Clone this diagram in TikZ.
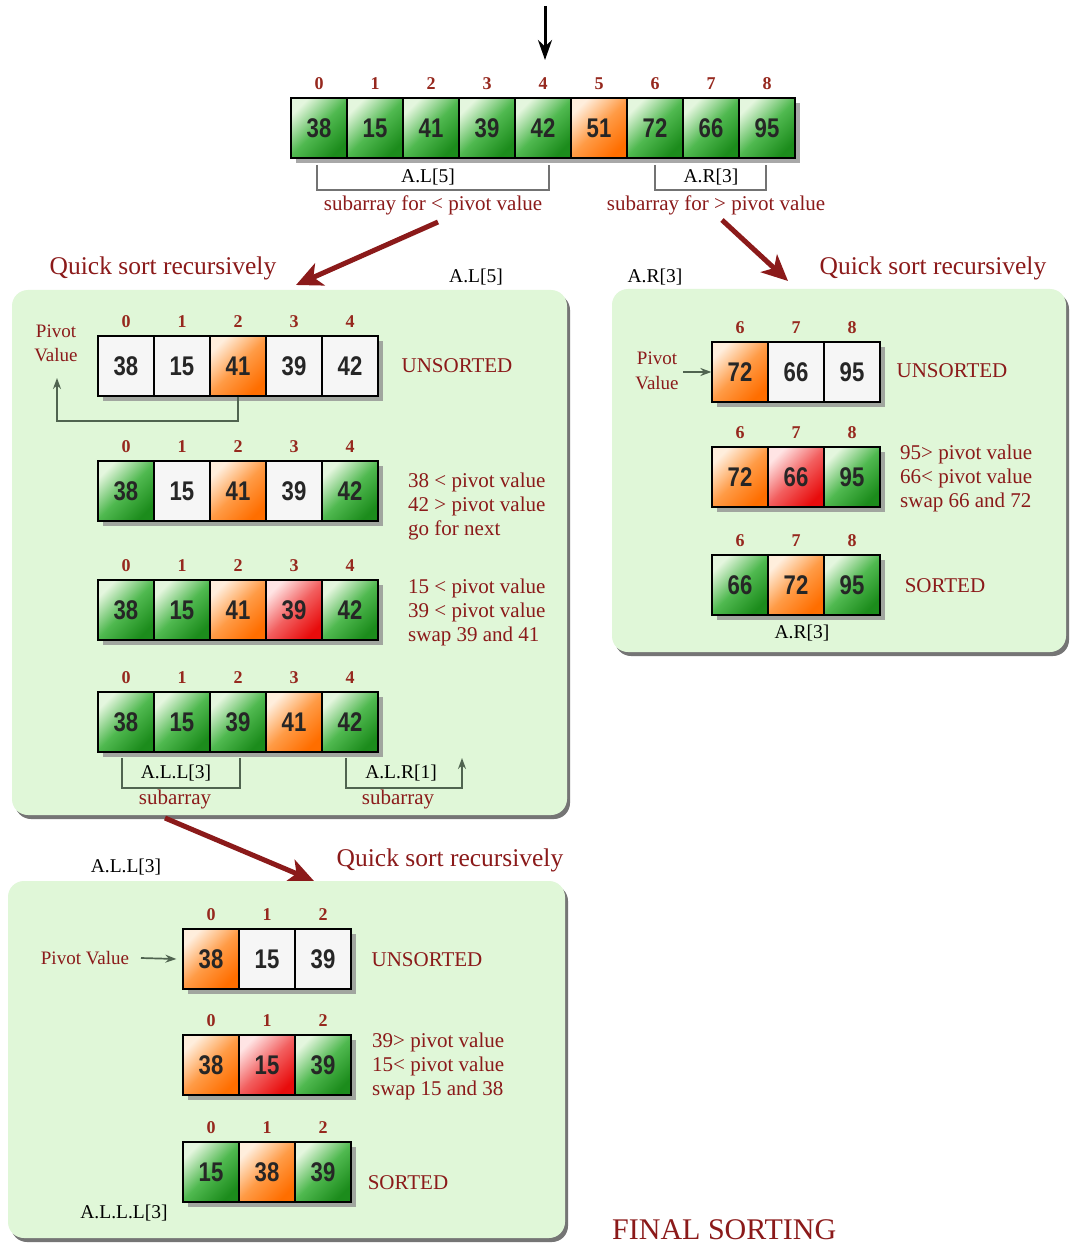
\documentclass[tikz,border=0pt]{standalone}
\usepackage{fontspec}
\setmainfont{Liberation Serif}
\newfontfamily\numfont[FakeStretch=0.82]{Liberation Sans}
\usetikzlibrary{arrows.meta,shadows}
\definecolor{dred}{RGB}{139,26,26}
\definecolor{idxred}{RGB}{150,40,30}
\definecolor{panelg}{RGB}{224,247,216}
\definecolor{gL}{RGB}{228,246,222}
\definecolor{gM}{RGB}{80,185,80}
\definecolor{gD}{RGB}{28,140,28}
\definecolor{oL}{RGB}{255,238,220}
\definecolor{oM}{RGB}{255,155,70}
\definecolor{oD}{RGB}{255,110,0}
\definecolor{rL}{RGB}{255,228,228}
\definecolor{rM}{RGB}{242,95,95}
\definecolor{rD}{RGB}{232,12,12}
\definecolor{wC}{RGB}{246,246,246}
\definecolor{brk}{RGB}{115,115,115}
\definecolor{pgr}{RGB}{80,100,80}

\newcommand\cellrow[5]{% name, x0, ytop, n, items
  \fill[black!45,opacity=.75] ({#2+5},{#3+5}) rectangle ({#2+5+56*#4},{#3+65});
  \foreach \v/\c/\i [count=\k from 0] in {#5}{%
    \node[cell,\c] (#1-\k) at ({#2+28+56*\k},{#3+30}) {\v};
    \node[idx] (#1-i\k) at ({#2+28+56*\k},{#3-14}) {\i};
  }%
}

\begin{document}
\begin{tikzpicture}[x=1pt,y=-1pt,
  cell/.style={draw=black, line width=1.3pt, minimum width=56pt, minimum height=60pt,
    inner sep=0pt, font=\numfont\bfseries\fontsize{27}{30}\selectfont, text=black!85},
  cG/.style={top color=gL, bottom color=gD, middle color=gM, shading angle=45},
  cO/.style={top color=oL, bottom color=oD, middle color=oM, shading angle=45},
  cR/.style={top color=rL, bottom color=rD, middle color=rM, shading angle=45},
  cW/.style={fill=wC},
  lbl/.style={font=\fontsize{19.5}{23}\selectfont, text=black, inner sep=0pt},
  rtxt/.style={font=\fontsize{21}{24}\selectfont, text=dred, inner sep=0pt},
  qtxt/.style={font=\fontsize{25.5}{30}\selectfont, text=dred, inner sep=0pt},
  idx/.style={font=\bfseries\fontsize{18}{20}\selectfont, text=idxred, inner sep=0pt},
  brkline/.style={draw=brk, line width=1.6pt},
  pline/.style={draw=pgr, line width=1.7pt},
  parr/.style={pline, -{Stealth[length=11pt,width=8pt]}},
  bigarr/.style={draw=dred, line width=5pt, -{Stealth[length=26pt,width=24pt,inset=7pt]}},
  panel/.style={fill=panelg, rounded corners=16pt,
    drop shadow={shadow xshift=3pt, shadow yshift=-4pt, fill=black!60, opacity=.9}}
]
\useasboundingbox (0,0) rectangle (1070,1246);
\fill[white] (0,0) rectangle (1070,1246);

% ---------- top ----------
\coordinate (topA) at (545,6);
\coordinate (topB) at (545,60);
\draw[line width=3pt,-{Stealth[length=20pt,width=14pt]}] (topA) -- (topB);

\cellrow{T}{291}{98}{9}{38/cG/0,15/cG/1,41/cG/2,39/cG/3,42/cG/4,51/cO/5,72/cG/6,66/cG/7,95/cG/8}

\draw[brkline] (317,165) -- (317,190) -- (549,190) -- (549,165);
\node[lbl] (alab) at (428,177) {A.L[5]};
\draw[brkline] (655,165) -- (655,190) -- (766,190) -- (766,165);
\node[lbl] (arlab) at (711,177) {A.R[3]};
\node[rtxt] (subL) at (433,205) {subarray for < pivot value};
\node[rtxt] (subR) at (716,205) {subarray for > pivot value};

\coordinate (r1s) at (438,222); \coordinate (r1e) at (296,285);
\coordinate (r2s) at (722,220); \coordinate (r2e) at (788,281);
\draw[bigarr] (r1s) -- (r1e);
\draw[bigarr] (r2s) -- (r2e);

\node[qtxt] (q1) at (163,268) {Quick sort recursively};
\node[lbl] (al5) at (476,277) {A.L[5]};
\node[lbl] (ar3) at (655,277) {A.R[3]};
\node[qtxt] (q2) at (933,268) {Quick sort recursively};

% ---------- left panel ----------
\path[panel] (12,290) rectangle (567,815);

\cellrow{La}{98}{336}{5}{38/cW/0,15/cW/1,41/cO/2,39/cW/3,42/cW/4}
\node[rtxt, align=center, font=\fontsize{19}{24}\selectfont] (pvL) at (56,343) {Pivot\\Value};
\coordinate (pivA) at (57,378);
\draw[parr] (La-2.south) -- ++(0,24) -| (pivA);
\node[rtxt] (unsL) at (457,366) {UNSORTED};

\cellrow{Lb}{98}{461}{5}{38/cG/0,15/cW/1,41/cO/2,39/cW/3,42/cG/4}
\node[rtxt, anchor=west, align=left] (tLb) at (408,506) {38 < pivot value\\42 > pivot value\\go for next};

\cellrow{Lc}{98}{580}{5}{38/cG/0,15/cG/1,41/cO/2,39/cR/3,42/cG/4}
\node[rtxt, anchor=west, align=left] (tLc) at (408,612) {15 < pivot value\\39 < pivot value\\swap 39 and 41};

\cellrow{Ld}{98}{692}{5}{38/cG/0,15/cG/1,39/cG/2,41/cO/3,42/cG/4}
\draw[pline] (122,758) -- (122,788) -- (240,788) -- (240,758);
\node[lbl] (all3) at (176,773) {A.L.L[3]};
\node[rtxt] (sa1) at (175,799) {subarray};
\coordinate (alrA) at (462,758);
\draw[parr] (346,758) -- (346,788) -- (462,788) -- (alrA);
\node[lbl] (alr1) at (401,773) {A.L.R[1]};
\node[rtxt] (sa2) at (398,799) {subarray};

% ---------- arrow to bottom panel ----------
\coordinate (r3s) at (165,818); \coordinate (r3e) at (314,881);
\draw[bigarr] (r3s) -- (r3e);
\node[lbl] (all3b) at (126,867) {A.L.L[3]};
\node[qtxt] (q3) at (450,860) {Quick sort recursively};

% ---------- right panel ----------
\path[panel] (612,289) rectangle (1066,652);

\cellrow{Ra}{712}{342}{3}{72/cO/6,66/cW/7,95/cW/8}
\node[rtxt, align=center, font=\fontsize{19}{25}\selectfont] (pvR) at (657,371) {Pivot\\Value};
\coordinate (pvRa) at (683,372);
\draw[parr] (pvRa) -- (Ra-0.west);
\node[rtxt] (unsR) at (952,371) {UNSORTED};

\cellrow{Rb}{712}{447}{3}{72/cO/6,66/cR/7,95/cG/8}
\node[rtxt, anchor=west, align=left] (tRb) at (900,478) {95> pivot value\\66< pivot value\\swap 66 and 72};

\cellrow{Rc}{712}{555}{3}{66/cG/6,72/cO/7,95/cG/8}
\node[rtxt] (sorR) at (945,586) {SORTED};
\node[lbl] (ar3b) at (802,633) {A.R[3]};

% ---------- bottom panel ----------
\path[panel] (8,881) rectangle (565,1238);

\cellrow{Ba}{183}{929}{3}{38/cO/0,15/cW/1,39/cW/2}
\node[rtxt, font=\fontsize{19}{22}\selectfont] (pvB) at (85,958) {Pivot Value};
\coordinate (pvBa) at (141,958);
\draw[parr] (pvBa) -- ([xshift=-6pt]Ba-0.west);
\node[rtxt] (unsB) at (427,960) {UNSORTED};

\cellrow{Bb}{183}{1035}{3}{38/cO/0,15/cR/1,39/cG/2}
\node[rtxt, anchor=west, align=left] (tBb) at (372,1066) {39> pivot value\\15< pivot value\\swap 15 and 38};

\cellrow{Bc}{183}{1142}{3}{15/cG/0,38/cO/1,39/cG/2}
\node[rtxt] (sorB) at (408,1183) {SORTED};
\node[lbl] (alll3) at (124,1213) {A.L.L.L[3]};

\node[rtxt, font=\fontsize{30}{34}\selectfont, anchor=base west] (fin) at (612,1239) {FINAL SORTING};
\end{tikzpicture}
\end{document}
